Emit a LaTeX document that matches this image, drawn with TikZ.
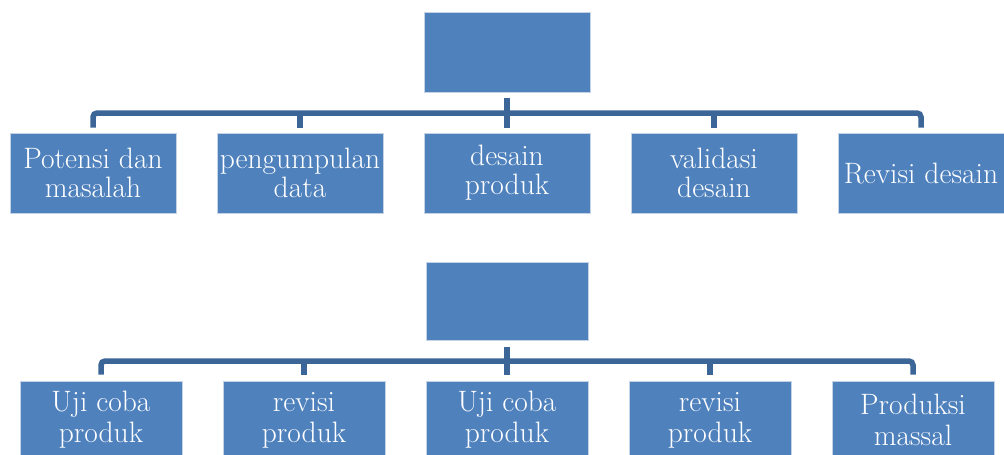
\documentclass[tikz,border=0pt]{standalone}
\usepackage{fontspec}
\definecolor{boxblue}{HTML}{4F81BD}
\definecolor{connblue}{HTML}{3D6698}
\definecolor{boxedge}{HTML}{C5D3E6}
\begin{document}
\begin{tikzpicture}[x=1pt,y=-1pt,
  box/.style={rectangle, fill=boxblue, draw=boxedge, line width=0.8pt, inner sep=0pt,
    text=white, align=center, font=\fontsize{29.5}{29}\selectfont},
  toprow/.style={box, minimum width=166pt, minimum height=80pt},
  botrow/.style={box, minimum width=162pt, minimum height=78pt, font=\fontsize{29.5}{31}\selectfont},
  conn/.style={draw=connblue, line width=5.5pt}]
\useasboundingbox (0,0) rectangle (1004,455);
\clip (0,0) rectangle (1004,455);
% top section
\node[toprow] (p1) at (507,52) {};
\node[toprow] (a1) at (93,173) {Potensi dan\\masalah};
\node[toprow] (a2) at (300,173) {pengumpulan\\data};
\node[toprow] (a3) at (507,173) {desain\\produk};
\node[toprow] (a4) at (714,173) {validasi\\desain};
\node[toprow] (a5) at (921,173) {\raisebox{-3pt}{Revisi desain}};
\coordinate (busA) at (507,113);
\draw[conn, rounded corners=4pt] ([yshift=5pt]a1.north) |- (busA) -| ([yshift=5pt]a5.north);
\draw[conn] ([yshift=5pt]a2.north) -- (a2.north |- busA);
\draw[conn] ([yshift=5pt]a4.north) -- (a4.north |- busA);
\draw[conn] ([yshift=-6pt]p1.south) -- ([yshift=5pt]a3.north);
% bottom section
\node[botrow] (p2) at (507,301) {};
\node[botrow] (b1) at (101,420) {Uji coba\\produk};
\node[botrow] (b2) at (304,420) {revisi\\produk};
\node[botrow] (b3) at (507,420) {Uji coba\\produk};
\node[botrow] (b4) at (710,420) {revisi\\produk};
\node[botrow] (b5) at (913,420) {Produksi\\massal};
\coordinate (busB) at (507,361);
\draw[conn, rounded corners=4pt] ([yshift=6pt]b1.north) |- (busB) -| ([yshift=6pt]b5.north);
\draw[conn] ([yshift=6pt]b2.north) -- (b2.north |- busB);
\draw[conn] ([yshift=6pt]b4.north) -- (b4.north |- busB);
\draw[conn] ([yshift=-7pt]p2.south) -- ([yshift=6pt]b3.north);
\end{tikzpicture}
\end{document}
